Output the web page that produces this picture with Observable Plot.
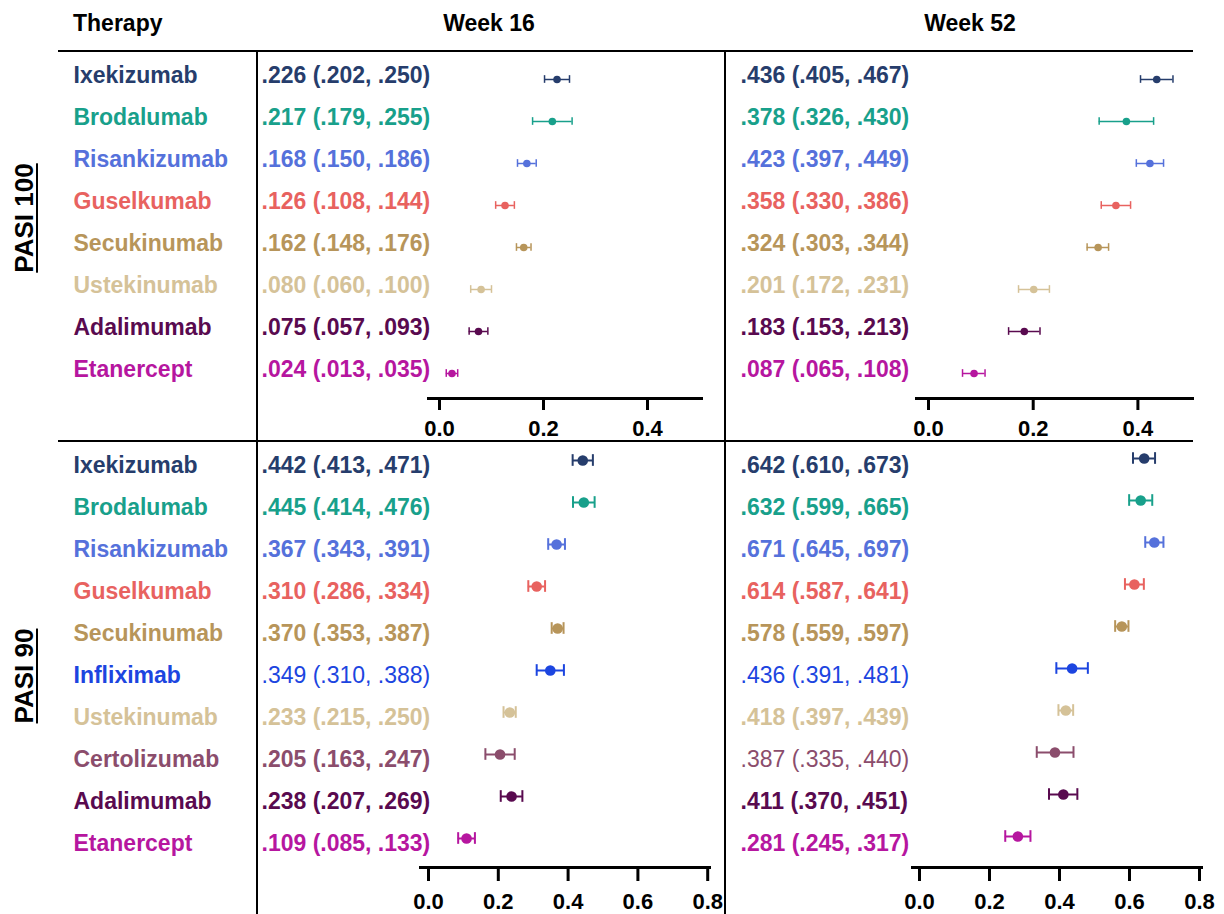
<!DOCTYPE html>
<html><head><meta charset="utf-8">
<script src="https://cdn.jsdelivr.net/npm/d3@7"></script>
<script src="https://cdn.jsdelivr.net/npm/@observablehq/plot@0.6"></script>
<style>
body{margin:0;background:#fff;font-family:"Liberation Sans",Arial,sans-serif;}
#chart{position:relative;width:1224px;height:914px;overflow:hidden;background:#fff;}
.hdr{position:absolute;font-weight:bold;font-size:23px;color:#000;line-height:1;white-space:nowrap;}
.rule{position:absolute;background:#000;}
.pasi{position:absolute;font-weight:bold;font-size:26px;line-height:1;text-decoration:underline;text-underline-offset:3px;white-space:nowrap;color:#000;transform:translate(-50%,-50%) rotate(-90deg);}
.panel{position:absolute;}
.panel svg{background:transparent !important;overflow:visible;}
</style></head>
<body><div id="chart"></div>
<script>
// ---------- data ----------
const allTherapies = ["Ixekizumab","Brodalumab","Risankizumab","Guselkumab","Secukinumab","Infliximab","Ustekinumab","Certolizumab","Adalimumab","Etanercept"];
const therapyColors = ["#263d6c","#18a08b","#5571db","#e8625f","#b7955a","#1c45e0","#d5c298","#8b4d6c","#590a4f","#b6169f"];

const pasi100Therapies = ["Ixekizumab","Brodalumab","Risankizumab","Guselkumab","Secukinumab","Ustekinumab","Adalimumab","Etanercept"];
const p100w16Est = [0.226,0.217,0.168,0.126,0.162,0.080,0.075,0.024];
const p100w16Lo  = [0.202,0.179,0.150,0.108,0.148,0.060,0.057,0.013];
const p100w16Hi  = [0.250,0.255,0.186,0.144,0.176,0.100,0.093,0.035];
const p100w52Est = [0.436,0.378,0.423,0.358,0.324,0.201,0.183,0.087];
const p100w52Lo  = [0.405,0.326,0.397,0.330,0.303,0.172,0.153,0.065];
const p100w52Hi  = [0.467,0.430,0.449,0.386,0.344,0.231,0.213,0.108];

const pasi90Therapies = ["Ixekizumab","Brodalumab","Risankizumab","Guselkumab","Secukinumab","Infliximab","Ustekinumab","Certolizumab","Adalimumab","Etanercept"];
const p90w16Est = [0.442,0.445,0.367,0.310,0.370,0.349,0.233,0.205,0.238,0.109];
const p90w16Lo  = [0.413,0.414,0.343,0.286,0.353,0.310,0.215,0.163,0.207,0.085];
const p90w16Hi  = [0.471,0.476,0.391,0.334,0.387,0.388,0.250,0.247,0.269,0.133];
const p90w52Est = [0.642,0.632,0.671,0.614,0.578,0.436,0.418,0.387,0.411,0.281];
const p90w52Lo  = [0.610,0.599,0.645,0.587,0.559,0.391,0.397,0.335,0.370,0.245];
const p90w52Hi  = [0.673,0.665,0.697,0.641,0.597,0.481,0.439,0.440,0.451,0.317];

const ticks100 = [0, 0.2, 0.4];
const ticks90 = [0, 0.2, 0.4, 0.6, 0.8];

// labels printed in regular (non-bold) weight
const regularP90w16 = ["Infliximab"];
const regularP90w52 = ["Infliximab","Certolizumab"];

// ---------- layout ----------
const FONT = '"Liberation Sans", Arial, sans-serif';
const chart = document.getElementById("chart");
const colorOf = name => therapyColors[allTherapies.indexOf(name)];
const f3 = d3.format(".3f");
const fmt = v => f3(v).replace(/^0/, "");
const label = d => `${fmt(d.est)} (${fmt(d.lo)}, ${fmt(d.hi)})`;

function addDiv(cls, text, css) {
  const el = document.createElement("div");
  el.className = cls;
  if (text) el.textContent = text;
  Object.assign(el.style, css);
  chart.appendChild(el);
  return el;
}

function panel(cfg) {
  const rows = cfg.names.map((name, i) => ({
    name, est: cfg.est[i], lo: cfg.lo[i], hi: cfg.hi[i],
    color: colorOf(name), regular: cfg.regular.includes(name)
  }));
  const n = rows.length;
  const yRange = [cfg.row0 - cfg.step / 2, cfg.row0 + cfg.step * (n - 0.5)];
  const capInset = cfg.step / 2 - cfg.cap;
  const marks = [
    Plot.frame({anchor: "bottom", stroke: "#000", strokeWidth: 3}),
    Plot.axisX({anchor: "bottom", ticks: cfg.ticks, tickFormat: d3.format(".1f"),
      tickSize: cfg.tickSize, tickPadding: cfg.tickPad, fontSize: 22, fontWeight: "bold",
      strokeWidth: 3, stroke: "#000", fill: "#000", label: null}),
    Plot.ruleY(rows, {y: "name", x1: "lo", x2: "hi", stroke: "color", strokeWidth: cfg.sw, dy: cfg.dotDy}),
    Plot.tickX(rows, {x: "lo", y: "name", stroke: "color", strokeWidth: cfg.sw, insetTop: capInset, insetBottom: capInset, dy: cfg.dotDy}),
    Plot.tickX(rows, {x: "hi", y: "name", stroke: "color", strokeWidth: cfg.sw, insetTop: capInset, insetBottom: capInset, dy: cfg.dotDy}),
    Plot.dot(rows, {x: "est", y: "name", r: cfg.r, fill: "color", stroke: null, dy: cfg.dotDy}),
    Plot.text(rows.filter(d => !d.regular), {y: "name", frameAnchor: "left", dx: cfg.textX - cfg.axisStart,
      text: label, fill: "color", fontWeight: "bold", fontSize: 23, textAnchor: "start"}),
    Plot.text(rows.filter(d => d.regular), {y: "name", frameAnchor: "left", dx: cfg.textX - cfg.axisStart,
      text: label, fill: "color", fontWeight: "normal", fontSize: 23, textAnchor: "start"})
  ];
  if (cfg.nameX != null) {
    marks.push(Plot.text(rows, {y: "name", frameAnchor: "left", dx: cfg.nameX - cfg.axisStart,
      text: "name", fill: "color", fontWeight: "bold", fontSize: 23, textAnchor: "start"}));
  }
  const svg = Plot.plot({
    width: cfg.width, height: cfg.height,
    marginLeft: cfg.axisStart, marginRight: cfg.width - cfg.axisEnd,
    marginTop: 0, marginBottom: cfg.height - cfg.axisY,
    x: {domain: [0, cfg.dmax], range: [cfg.zero, cfg.zero + cfg.dmax * cfg.ppu]},
    y: {type: "band", domain: cfg.names, range: yRange, padding: 0, axis: null},
    style: {fontFamily: FONT, background: "transparent", overflow: "visible"},
    marks
  });
  const wrap = addDiv("panel", null, {left: cfg.left + "px", top: cfg.top + "px", width: cfg.width + "px", height: cfg.height + "px"});
  wrap.appendChild(svg);
}

// PASI 100, week 16
panel({names: pasi100Therapies, est: p100w16Est, lo: p100w16Lo, hi: p100w16Hi, regular: [],
  left: 0, top: 51, width: 725, height: 390, axisStart: 428, axisEnd: 701, axisY: 347,
  zero: 439, ppu: 520, dmax: 0.5, ticks: ticks100, tickSize: 12, tickPad: 10,
  row0: 23, step: 42.3, dotDy: 4, r: 3.8, cap: 4, sw: 1.5, textX: 261, nameX: 73});
// PASI 100, week 52
panel({names: pasi100Therapies, est: p100w52Est, lo: p100w52Lo, hi: p100w52Hi, regular: [],
  left: 725, top: 51, width: 499, height: 390, axisStart: 191, axisEnd: 467, axisY: 347,
  zero: 203, ppu: 523.5, dmax: 0.5, ticks: ticks100, tickSize: 12, tickPad: 10,
  row0: 23, step: 42.3, dotDy: 4, r: 3.8, cap: 4, sw: 1.5, textX: 15, nameX: null});
// PASI 90, week 16
panel({names: pasi90Therapies, est: p90w16Est, lo: p90w16Lo, hi: p90w16Hi, regular: regularP90w16,
  left: 0, top: 441, width: 725, height: 473, axisStart: 420, axisEnd: 709, axisY: 426,
  zero: 428, ppu: 349, dmax: 0.8, ticks: ticks90, tickSize: 14, tickPad: 12,
  row0: 23, step: 42.33, dotDy: -5, r: 5.3, cap: 6, sw: 2, textX: 261, nameX: 73});
// PASI 90, week 52
panel({names: pasi90Therapies, est: p90w52Est, lo: p90w52Lo, hi: p90w52Hi, regular: regularP90w52,
  left: 725, top: 441, width: 499, height: 473, axisStart: 187, axisEnd: 476, axisY: 426,
  zero: 194, ppu: 350, dmax: 0.8, ticks: ticks90, tickSize: 14, tickPad: 12,
  row0: 23, step: 42.33, dotDy: -7, r: 5.3, cap: 6, sw: 2, textX: 15, nameX: null});

// table rules
addDiv("rule", null, {left: "58px", top: "50px", width: "1135px", height: "2px"});
addDiv("rule", null, {left: "58px", top: "440px", width: "1135px", height: "2px"});
addDiv("rule", null, {left: "256px", top: "50px", width: "2px", height: "864px"});
addDiv("rule", null, {left: "724px", top: "50px", width: "2px", height: "864px"});

// headers
addDiv("hdr", "Therapy", {left: "73px", top: "12px"});
addDiv("hdr", "Week 16", {left: "489px", top: "12px", transform: "translateX(-50%)"});
addDiv("hdr", "Week 52", {left: "970px", top: "12px", transform: "translateX(-50%)"});
addDiv("pasi", "PASI 100", {left: "24px", top: "218px"});
addDiv("pasi", "PASI 90", {left: "24px", top: "676px"});
</script></body></html>
